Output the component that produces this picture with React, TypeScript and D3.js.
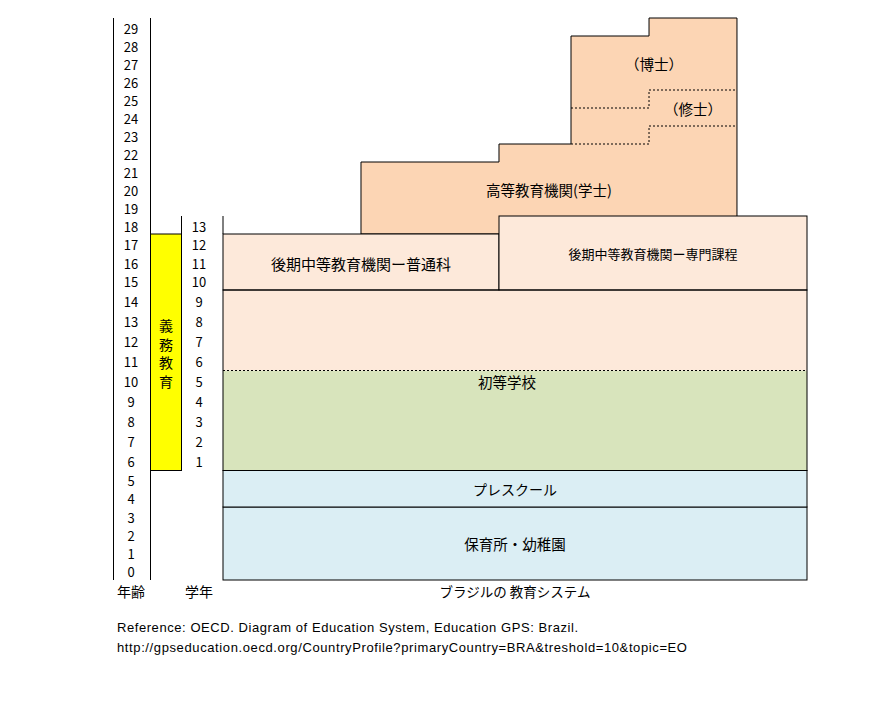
import React from "react";
import * as d3 from "d3";

// ---- data ----
const ages = d3.range(0, 30); // 0..29
const grades = d3.range(1, 14); // 1..13

// stages: name, startAge, endAge, x0 (fraction), x1 (fraction)
const stageNames = ["保育所・幼稚園", "プレスクール", "初等学校", "前期中等", "後期中等教育機関ー普通科", "後期中等教育機関ー専門課程"];
const stageStart = [0, 4, 6, 11, 15, 15];
const stageEnd = [4, 6, 11, 15, 18, 19];
const stageX0 = [0, 0, 0, 0, 0, 0.4726];
const stageX1 = [1, 1, 1, 1, 0.4726, 1];

// higher education steps: x0, x1, topAge
const higherX0 = [0.2363, 0.4726, 0.5959, 0.7295];
const higherX1 = [0.4726, 0.5959, 0.7295, 0.8801];
const higherTop = [22, 23, 29, 30];
const higherBottom = 18;

// master's band boundaries (dotted)
const masterLower = [23, 24];
const masterUpper = [25, 26];

const compulsoryStart = 6;
const compulsoryEnd = 18;

const refLines = [
  "Reference:  OECD. Diagram of Education System, Education GPS: Brazil.",
  "http://gpseducation.oecd.org/CountryProfile?primaryCountry=BRA&treshold=10&topic=EO",
];
const refLengths = [461, 570];

const FONT = "'Noto Sans CJK JP', 'Noto Sans', sans-serif";

export default function App() {
  const y = d3
    .scaleLinear()
    .domain([0, 6, 11, 15, 18, 30])
    .range([580, 470.5, 370.5, 290, 234, 18]);
  const x = d3.scaleLinear().domain([0, 1]).range([223, 807]);

  const colAgeL = 113.5;
  const colAgeR = 150.5;
  const colGradeL = 181.5;
  const ageX = 131;
  const gradeX = 199;

  const hPts: [number, number][] = [[x(higherX0[0]), y(higherBottom)]];
  higherX0.forEach((x0, i) => {
    hPts.push([x(x0), y(higherTop[i])]);
    hPts.push([x(higherX1[i]), y(higherTop[i])]);
  });
  hPts.push([x(higherX1[higherX1.length - 1]), y(higherBottom)]);
  const line = d3.line();
  const hPath = line(hPts) + "Z";

  const stepPts = (levels: number[]) => {
    const pts: [number, number][] = [];
    levels.forEach((lv, i) => {
      pts.push([x(higherX0[2 + i]), y(lv)]);
      pts.push([x(higherX1[2 + i]), y(lv)]);
    });
    return line(pts) as string;
  };

  const fills = ["#DBEEF4", "#DBEEF4", "#D8E4BC", "#FDE9DA", "#FDE9DA", "#FDE9DA"];
  const HIGH = "#FCD5B4";

  const mid = (a: number, b: number) => (a + b) / 2;

  return (
    <svg width={880} height={720} style={{ position: "absolute", left: 0, top: 0, background: "#fff" }} fontFamily={FONT}>
      <path d={hPath} fill={HIGH} stroke="#000" strokeWidth={1} />
      <path d={stepPts(masterLower)} fill="none" stroke="#000" strokeDasharray="2,2" />
      <path d={stepPts(masterUpper)} fill="none" stroke="#000" strokeDasharray="2,2" />

      {stageNames.map((n, i) => (
        <rect
          key={n}
          x={x(stageX0[i])}
          y={y(stageEnd[i])}
          width={x(stageX1[i]) - x(stageX0[i])}
          height={y(stageStart[i]) - y(stageEnd[i])}
          fill={fills[i]}
          stroke={i === 2 || i === 3 ? "none" : "#000"}
        />
      ))}
      <rect x={x(0)} y={y(15)} width={x(1) - x(0)} height={y(6) - y(15)} fill="none" stroke="#000" />
      <line x1={x(0)} x2={x(1)} y1={y(11)} y2={y(11)} stroke="#000" strokeDasharray="2,2" />

      <rect
        x={colAgeR}
        y={y(compulsoryEnd)}
        width={colGradeL - colAgeR}
        height={y(compulsoryStart) - y(compulsoryEnd)}
        fill="#FFFF00"
        stroke="#000"
      />
      {"義務教育".split("").map((c, i) => (
        <text key={c + i} x={mid(colAgeR, colGradeL)} y={325 + i * 18.5} fontSize={14} textAnchor="middle" dominantBaseline="central">
          {c}
        </text>
      ))}

      <line x1={colAgeL} x2={colAgeL} y1={y(30)} y2={y(0)} stroke="#000" />
      <line x1={colAgeR} x2={colAgeR} y1={y(30)} y2={y(0)} stroke="#000" />
      <line x1={colGradeL} x2={colGradeL} y1={y(19)} y2={y(18)} stroke="#000" />
      <line x1={x(0)} x2={x(0)} y1={y(19)} y2={y(18)} stroke="#000" />

      {ages.map((a) => (
        <text key={"a" + a} x={ageX} y={y(a + 0.5) + 1} fontSize={13} textAnchor="middle" dominantBaseline="central">
          {a}
        </text>
      ))}
      {grades.map((g) => (
        <text key={"g" + g} x={gradeX} y={y(g + 5.5) + 1} fontSize={13} textAnchor="middle" dominantBaseline="central">
          {g}
        </text>
      ))}

      <text x={mid(x(0), x(1))} y={mid(y(0), y(4))} fontSize={14.5} textAnchor="middle" dominantBaseline="central">
        {stageNames[0]}
      </text>
      <text x={mid(x(0), x(1))} y={mid(y(4), y(6))} fontSize={14} textAnchor="middle" dominantBaseline="central">
        {stageNames[1]}
      </text>
      <text x={mid(x(0), x(1)) - 8} y={y(11) + 11} fontSize={14.5} textAnchor="middle" dominantBaseline="central">
        {stageNames[2]}
      </text>
      <text x={mid(x(0), x(0.4726))} y={mid(y(15), y(18)) + 1} fontSize={15} textAnchor="middle" dominantBaseline="central">
        {stageNames[4]}
      </text>
      <text x={mid(x(0.4726), x(1))} y={mid(y(15), y(19))} fontSize={13} textAnchor="middle" dominantBaseline="central">
        {stageNames[5]}
      </text>
      <text x={mid(x(higherX0[0]), x(higherX1[3]))} y={mid(y(19), y(22))} fontSize={14.5} textAnchor="middle" dominantBaseline="central">
        高等教育機関(学士)
      </text>
      <text x={mid(x(higherX0[2]), x(higherX1[3]))} y={mid(y(26), y(29))} fontSize={14.5} textAnchor="middle" dominantBaseline="central">
        （博士）
      </text>
      <text x={mid(x(higherX0[3]), x(higherX1[3]))} y={mid(y(24), y(26))} fontSize={14.5} textAnchor="middle" dominantBaseline="central">
        （修士）
      </text>

      <text x={ageX} y={591} fontSize={14} textAnchor="middle" dominantBaseline="central">年齢</text>
      <text x={gradeX} y={591} fontSize={14} textAnchor="middle" dominantBaseline="central">学年</text>
      <text x={mid(x(0), x(1))} y={591} fontSize={13.5} textAnchor="middle" dominantBaseline="central">ブラジルの 教育システム</text>

      {refLines.map((t, i) => (
        <text
          key={i}
          x={117}
          y={627 + i * 20}
          fontSize={13}
          fontFamily="'Liberation Sans', Arial, sans-serif"
          dominantBaseline="central"
          textLength={refLengths[i]}
          lengthAdjust="spacing"
        >
          {t}
        </text>
      ))}
    </svg>
  );
}
